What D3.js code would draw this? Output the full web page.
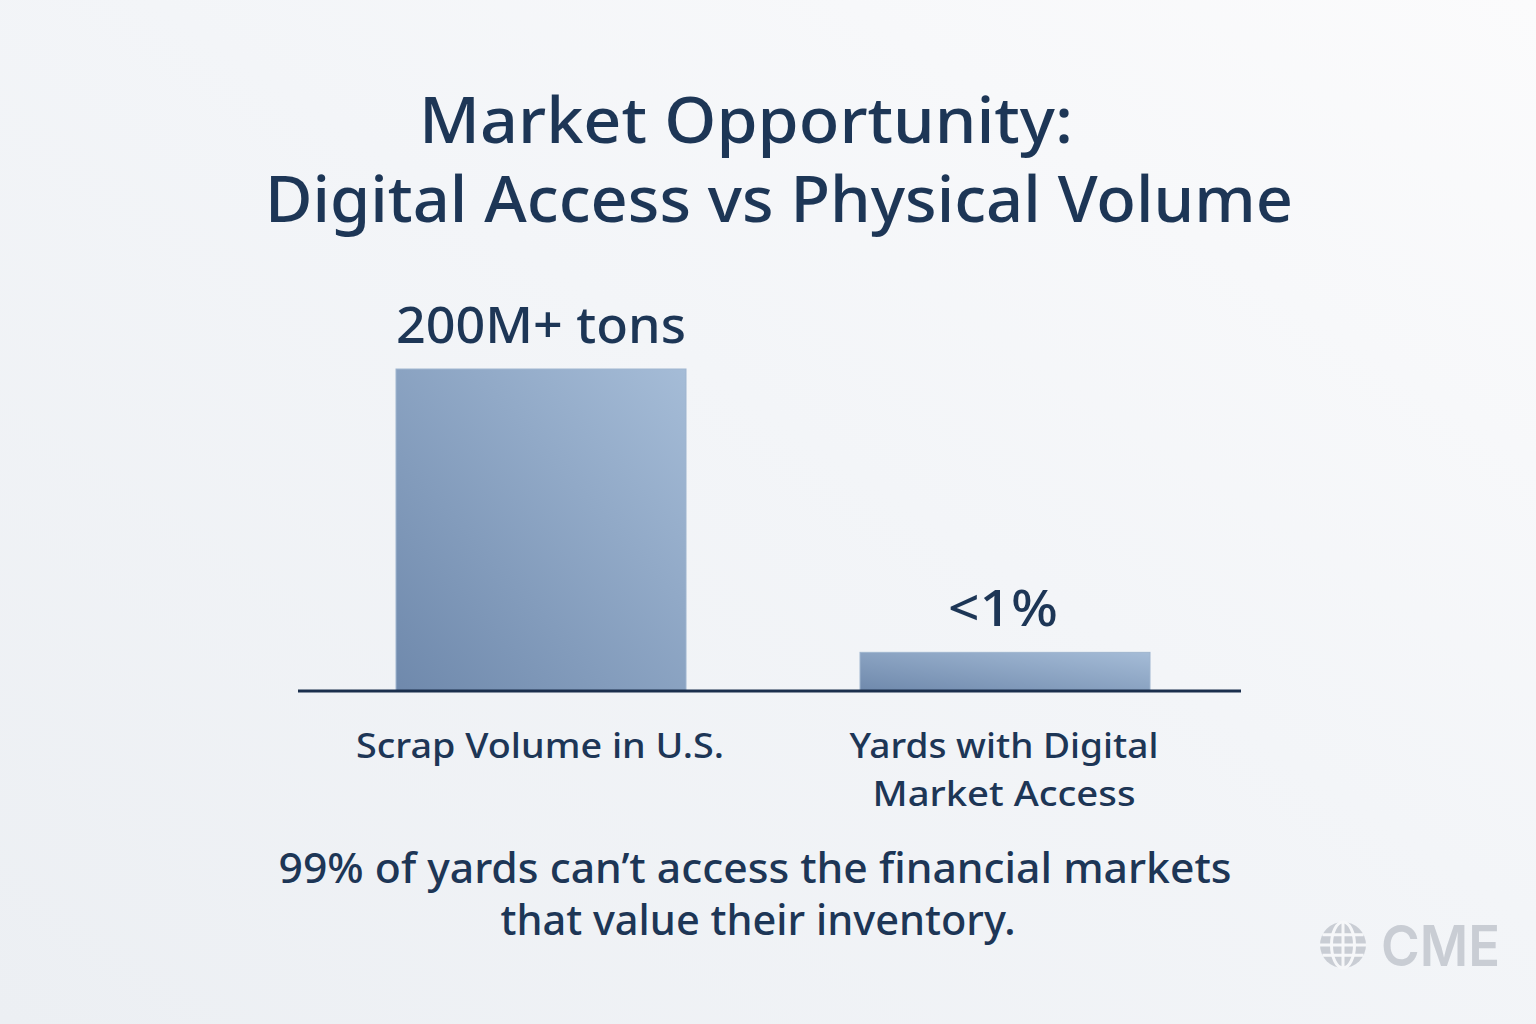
<!DOCTYPE html>
<html>
<head>
<meta charset="utf-8">
<script src="https://cdn.jsdelivr.net/npm/d3@7"></script>
<style>
  html, body { margin: 0; padding: 0; overflow: hidden; }
  text { font-family: "Noto Sans", "Open Sans", sans-serif; fill: #1d3656; }
</style>
</head>
<body>
<div id="chart"></div>
<script>
// chart content
const titleLines = ['Market Opportunity:', 'Digital Access vs Physical Volume'];
const categories = ['Scrap Volume in U.S.', 'Yards with Digital Market Access'];
const categoryLines = [['Scrap Volume in U.S.'], ['Yards with Digital', 'Market Access']];
const values = [100, 12];            // relative bar heights as drawn
const valueLabels = ['200M+ tons', '<1%'];
const footnoteLines = ['99% of yards can\u2019t access the financial markets', 'that value their inventory.'];
const brand = 'CME';

const width = 1536, height = 1024;
const baseY = 691;

const svg = d3.select('#chart').append('svg')
    .attr('width', width)
    .attr('height', height);

const defs = svg.append('defs');

// soft page background
const bg = defs.append('linearGradient')
    .attr('id', 'bg')
    .attr('x1', 0).attr('y1', 1).attr('x2', 1).attr('y2', 0);
bg.append('stop').attr('offset', 0).attr('stop-color', '#eceff3');
bg.append('stop').attr('offset', 0.55).attr('stop-color', '#f3f5f8');
bg.append('stop').attr('offset', 1).attr('stop-color', '#fbfbfc');

// bar fill, darker bottom-left to lighter top-right
const barGrad = defs.append('linearGradient')
    .attr('id', 'bar-grad')
    .attr('x1', 0).attr('y1', 1).attr('x2', 1).attr('y2', 0);
barGrad.append('stop').attr('offset', 0).attr('stop-color', '#6f89ac');
barGrad.append('stop').attr('offset', 1).attr('stop-color', '#a5bcd7');

svg.append('rect')
    .attr('width', width)
    .attr('height', height)
    .attr('fill', 'url(#bg)');

// Title
svg.append('g').selectAll('text')
    .data(titleLines)
    .join('text')
    .attr('x', (d, i) => i === 0 ? 746 : 779)
    .attr('y', (d, i) => 143 + i * 79)
    .attr('text-anchor', 'middle')
    .style('font-size', '64px')
    .style('font-weight', 500)
    .attr('textLength', (d, i) => i === 0 ? 654 : 1028)
    .attr('lengthAdjust', 'spacingAndGlyphs')
    .text(d => d);

// Scales
const xScale = d3.scaleBand()
    .domain(categories)
    .range([396, 1150])
    .paddingInner(0.375)
    .paddingOuter(0);

const yScale = d3.scaleLinear()
    .domain([0, 100])
    .range([baseY, 369]);

const chart = svg.append('g');

chart.selectAll('.bar')
    .data(categories)
    .join('rect')
    .attr('class', 'bar')
    .attr('x', d => xScale(d))
    .attr('y', (d, i) => yScale(values[i]))
    .attr('width', xScale.bandwidth())
    .attr('height', (d, i) => baseY - yScale(values[i]))
    .attr('fill', 'url(#bar-grad)')
    .attr('stroke', '#9fb5cf')
    .attr('stroke-width', 1);

// value labels above the bars
const labelWidths = [290, 110];
chart.selectAll('.value-label')
    .data(categories)
    .join('text')
    .attr('class', 'value-label')
    .attr('x', d => xScale(d) + xScale.bandwidth() / 2 + (d === categories[1] ? -2 : 0))
    .attr('y', (d, i) => yScale(values[i]) - 26)
    .attr('text-anchor', 'middle')
    .style('font-size', '50px')
    .style('font-weight', 500)
    .attr('textLength', (d, i) => labelWidths[i])
    .attr('lengthAdjust', 'spacingAndGlyphs')
    .text((d, i) => valueLabels[i]);

// baseline
chart.append('line')
    .attr('x1', 298).attr('x2', 1241)
    .attr('y1', baseY).attr('y2', baseY)
    .attr('stroke', '#1b2f4d')
    .attr('stroke-width', 3);

// category labels (x axis)
const catWidths = [[368], [309, 263]];
categories.forEach((c, i) => {
    chart.append('g').selectAll('text')
        .data(categoryLines[i])
        .join('text')
        .attr('class', 'cat-label')
        .attr('x', xScale(c) + xScale.bandwidth() / 2 - 1)
        .attr('y', (d, j) => 758 + j * 48)
        .attr('text-anchor', 'middle')
        .style('font-size', '34px')
        .style('font-weight', 500)
        .attr('textLength', (d, j) => catWidths[i][j])
        .attr('lengthAdjust', 'spacingAndGlyphs')
        .text(d => d);
});

// footnote
svg.append('g').selectAll('text')
    .data(footnoteLines)
    .join('text')
    .attr('x', (d, i) => i === 0 ? 755 : 758)
    .attr('y', (d, i) => 883 + i * 52)
    .attr('text-anchor', 'middle')
    .style('font-size', '42px')
    .style('font-weight', 500)
    .attr('textLength', (d, i) => i === 0 ? 953 : 515)
    .attr('lengthAdjust', 'spacingAndGlyphs')
    .text(d => d);

// brand mark, bottom right
const logo = svg.append('g').attr('transform', 'translate(1343,945)');
const r = 23;
logo.append('circle').attr('r', r).attr('fill', '#c9cdd4');
const white = '#f6f7f9';
logo.append('line').attr('x1', 0).attr('x2', 0).attr('y1', -r).attr('y2', r)
    .attr('stroke', white).attr('stroke-width', 3);
logo.append('ellipse').attr('rx', r * 0.5).attr('ry', r)
    .attr('fill', 'none').attr('stroke', white).attr('stroke-width', 3);
[-0.45, 0, 0.45].forEach(f => {
    const y = f * r;
    const hw = Math.sqrt(r * r - y * y);
    logo.append('line').attr('x1', -hw).attr('x2', hw).attr('y1', y).attr('y2', y)
        .attr('stroke', white).attr('stroke-width', 3);
});

svg.append('text')
    .attr('x', 1381)
    .attr('y', 966)
    .style('font-family', 'Inter, "Noto Sans", sans-serif')
    .style('font-size', '57px')
    .style('font-weight', 600)
    .style('fill', '#c9cdd4')
    .attr('textLength', 119)
    .attr('lengthAdjust', 'spacingAndGlyphs')
    .text(brand);
</script>
</body>
</html>
